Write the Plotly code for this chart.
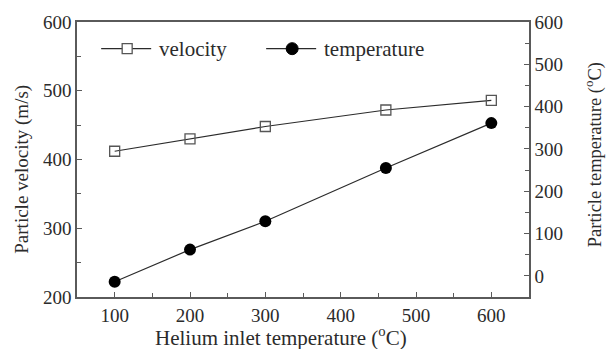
import plotly.graph_objects as go

# Helium inlet temperature (°C)
inlet_temp = [100, 200, 300, 460, 600]
# Particle velocity (m/s)
velocity = [412, 430, 448, 472, 486]
# Particle temperature (°C)
particle_temp = [-14, 62, 129, 255, 361]

FONT = "Liberation Serif"
INK = "#2b2b2b"
AX = "#5a5a5a"

fig = go.Figure()
fig.add_trace(go.Scatter(
    x=inlet_temp, y=velocity, name="velocity", mode="lines+markers",
    line=dict(color=INK, width=1.2),
    marker=dict(symbol="square-open", size=10, color="#555555", line=dict(width=1.3)),
))
fig.add_trace(go.Scatter(
    x=inlet_temp, y=particle_temp, name="temperature", mode="lines+markers",
    yaxis="y2",
    line=dict(color=INK, width=1.2),
    marker=dict(symbol="circle", size=12, color="#000000"),
))

tick_font = dict(family=FONT, size=19, color=INK)
axis_common = dict(
    showline=True, linecolor=AX, linewidth=1.5,
    ticks="inside", ticklen=5, tickwidth=1.3, tickcolor=AX,
    showgrid=False, zeroline=False, tickfont=tick_font,
)

fig.update_layout(
    width=608, height=349,
    margin=dict(l=77, r=79, t=16, b=52),
    paper_bgcolor="white", plot_bgcolor="white",
    font=dict(family=FONT, color=INK),
    showlegend=False,
    xaxis=dict(
        range=[50, 650], tickvals=[100, 200, 300, 400, 500, 600],
        minor=dict(tickvals=[150, 250, 350, 450, 550], ticks="inside",
                   ticklen=4, tickcolor=AX, tickwidth=1.2),
        mirror=True,
        **axis_common,
    ),
    yaxis=dict(
        range=[200, 600], tickvals=[200, 300, 400, 500, 600],
        minor=dict(tickvals=[250, 350, 450, 550], ticks="inside",
                   ticklen=4, tickcolor=AX, tickwidth=1.2),
        **axis_common,
    ),
    yaxis2=dict(
        range=[-50, 600], tickvals=[0, 100, 200, 300, 400, 500, 600],
        minor=dict(tickvals=[50, 150, 250, 350, 450, 550], ticks="inside",
                   ticklen=4, tickcolor=AX, tickwidth=1.2),
        overlaying="y", side="right",
        **axis_common,
    ),
)

# Axis titles
title_font = dict(family=FONT, size=19, color=INK)
fig.add_annotation(text="Helium inlet temperature (<sup>o</sup>C)", xref="paper", yref="paper",
                   x=0.451, y=-0.142, xanchor="center", yanchor="middle", showarrow=False,
                   font=dict(family=FONT, size=21, color=INK))
fig.add_annotation(text="Particle velocity (m/s)", xref="paper", yref="paper",
                   x=-0.122, y=0.466, xanchor="center", yanchor="middle", showarrow=False,
                   textangle=-90, font=title_font)
fig.add_annotation(text="Particle temperature (<sup>o</sup>C)", xref="paper", yref="paper",
                   x=1.142, y=0.516, xanchor="center", yanchor="middle", showarrow=False,
                   textangle=-90, font=dict(family=FONT, size=18.5, color=INK))

# Legend key: a line with the series symbol, then its label
def legend_entry(xc, yc, name, symbol):
    fig.add_shape(type="line", xref="paper", yref="paper",
                  xsizemode="pixel", ysizemode="pixel", xanchor=xc, yanchor=yc,
                  x0=-26, x1=24, y0=0, y1=0, line=dict(color=INK, width=1.2))
    if symbol == "square":
        fig.add_shape(type="rect", xref="paper", yref="paper",
                      xsizemode="pixel", ysizemode="pixel", xanchor=xc, yanchor=yc,
                      x0=-5, x1=5, y0=-5, y1=5, fillcolor="white",
                      line=dict(color="#555555", width=1.3))
    else:
        fig.add_shape(type="circle", xref="paper", yref="paper",
                      xsizemode="pixel", ysizemode="pixel", xanchor=xc, yanchor=yc,
                      x0=-6, x1=6, y0=-6, y1=6, fillcolor="black",
                      line=dict(color="black", width=1))
    fig.add_annotation(text=name, xref="paper", yref="paper", x=xc, y=yc,
                       xanchor="left", yanchor="middle", xshift=30, showarrow=False,
                       font=dict(family=FONT, size=21, color=INK))

legend_entry(0.111, 0.903, "velocity", "square")
legend_entry(0.476, 0.903, "temperature", "circle")

fig.write_html("out.html")
